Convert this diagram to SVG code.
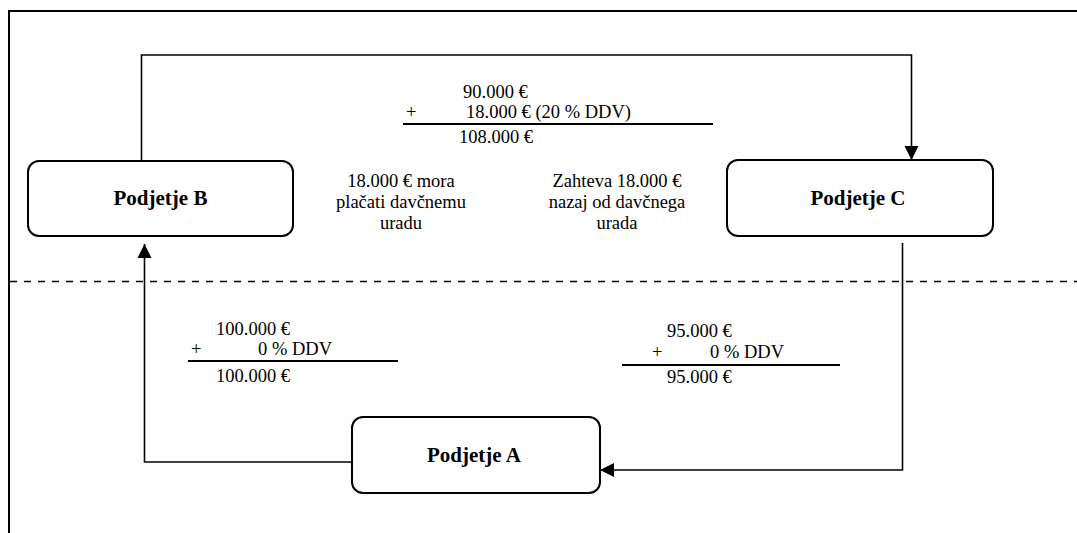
<svg xmlns="http://www.w3.org/2000/svg" width="1077" height="533" viewBox="0 0 1077 533">
<style>
.t{font-family:"Liberation Serif","Times New Roman",serif;font-size:18.5px;fill:#000}
.b{font-family:"Liberation Serif","Times New Roman",serif;font-size:21px;font-weight:bold;fill:#000}
.box{fill:#fff;stroke:#000;stroke-width:2}
.ln{fill:none;stroke:#000;stroke-width:1.6}
.rule{stroke:#000;stroke-width:2}
</style>
<defs>
<marker id="ah" viewBox="0 0 10 10" refX="10" refY="5" markerWidth="14" markerHeight="15" markerUnits="userSpaceOnUse" orient="auto">
<path d="M0,0 L10,5 L0,10 Z" fill="#000"/>
</marker>
</defs>
<rect width="1077" height="533" fill="#fff"/>
<g id="frame">
<line x1="8" y1="11" x2="1077" y2="11" class="rule"/>
<line x1="9" y1="10" x2="9" y2="533" class="rule"/>
<line x1="10" y1="281.5" x2="1077" y2="281.5" stroke="#000" stroke-width="1.6" stroke-dasharray="7 7"/>
</g>
<g id="connectors">
<path class="ln" d="M141.5,161 V55 H911.5 V160" marker-end="url(#ah)"/>
<path class="ln" d="M902.5,243 V470 H600" marker-end="url(#ah)"/>
<path class="ln" d="M352,462 H144.5 V244" marker-end="url(#ah)"/>
</g>
<g id="nodeB">
<rect class="box" x="28" y="161" width="265" height="75" rx="11"/>
<text class="b" x="160.5" y="205" text-anchor="middle">Podjetje B</text>
</g>
<g id="nodeC">
<rect class="box" x="727" y="160" width="266" height="76" rx="11"/>
<text class="b" x="858" y="205" text-anchor="middle">Podjetje C</text>
</g>
<g id="nodeA">
<rect class="box" x="352" y="417" width="248" height="76" rx="11"/>
<text class="b" x="474" y="462" text-anchor="middle">Podjetje A</text>
</g>
<g id="labelBC">
<text class="t" x="463" y="98">90.000 €</text>
<text class="t" x="406" y="118">+</text>
<text class="t" x="466" y="118">18.000 € (20 % DDV)</text>
<line x1="403" y1="124" x2="713" y2="124" class="rule"/>
<text class="t" x="459" y="143">108.000 €</text>
</g>
<g id="noteB">
<text class="t" x="401" y="187" text-anchor="middle">18.000 € mora</text>
<text class="t" x="401" y="208" text-anchor="middle">plačati davčnemu</text>
<text class="t" x="401" y="229" text-anchor="middle">uradu</text>
</g>
<g id="noteC">
<text class="t" x="617" y="187" text-anchor="middle">Zahteva 18.000 €</text>
<text class="t" x="617" y="208" text-anchor="middle">nazaj od davčnega</text>
<text class="t" x="617" y="229" text-anchor="middle">urada</text>
</g>
<g id="labelAB">
<text class="t" x="216" y="335">100.000 €</text>
<text class="t" x="191" y="355">+</text>
<text class="t" x="258" y="355">0 % DDV</text>
<line x1="188" y1="361" x2="398" y2="361" class="rule"/>
<text class="t" x="216" y="382">100.000 €</text>
</g>
<g id="labelCA">
<text class="t" x="667" y="337">95.000 €</text>
<text class="t" x="652" y="358">+</text>
<text class="t" x="710" y="358">0 % DDV</text>
<line x1="622" y1="365" x2="840" y2="365" class="rule"/>
<text class="t" x="667" y="383">95.000 €</text>
</g>
</svg>
